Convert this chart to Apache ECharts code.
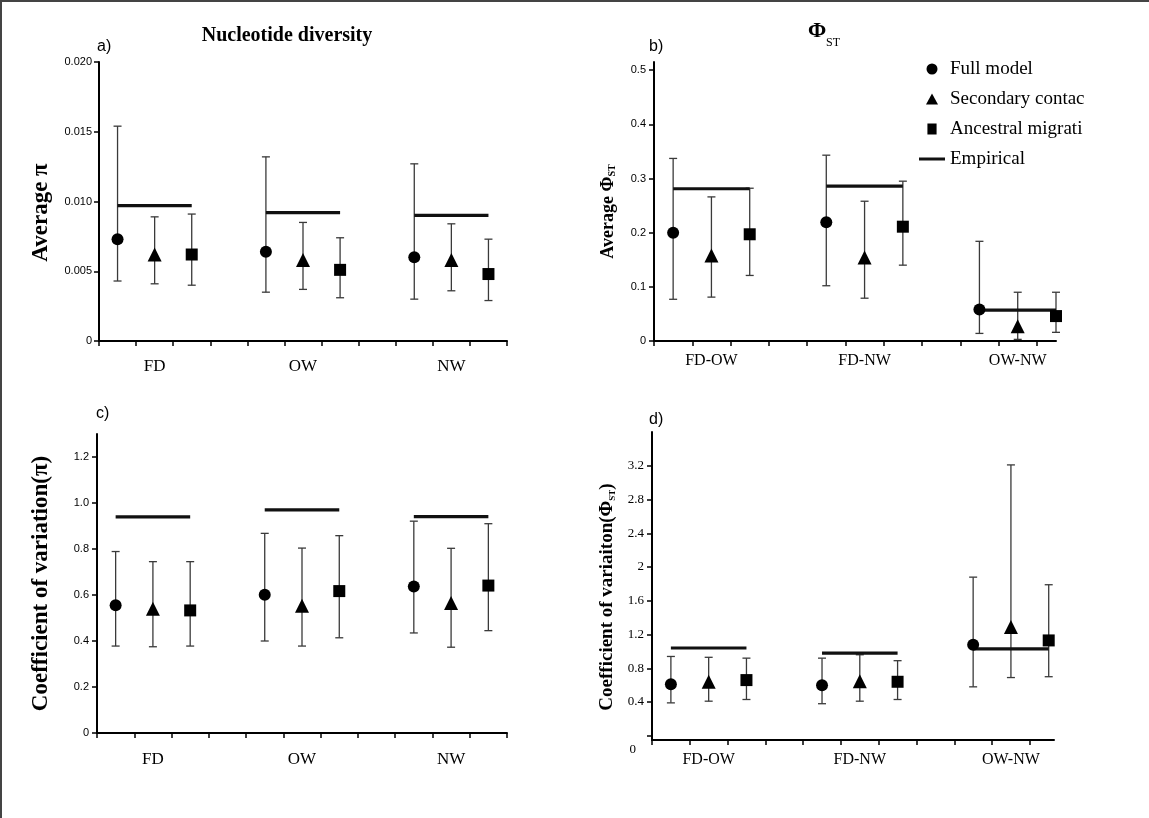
<!DOCTYPE html>
<html><head><meta charset="utf-8">
<script src="https://cdn.jsdelivr.net/npm/echarts@6/dist/echarts.min.js"></script>
<style>
html,body{margin:0;padding:0;background:#fff}
#wrap{position:relative;width:1149px;height:818px}
#c{width:1149px;height:818px}
#f{position:absolute;left:0;top:0;width:1149px;height:818px;border-top:2px solid #444;border-left:2px solid #444;box-sizing:border-box;pointer-events:none}
</style>
</head><body><div id="wrap"><div id="c"></div><div id="f"></div></div>
<script>
// ---- data ----
const models = ['Full model', 'Secondary contact', 'Ancestral migration'];
const popGroups = ['FD', 'OW', 'NW'];
const pairGroups = ['FD-OW', 'FD-NW', 'OW-NW'];

// a) Nucleotide diversity: [model][group]
const aMean = [[0.0073, 0.0064, 0.0060], [0.0062, 0.0058, 0.0058], [0.0062, 0.0051, 0.0048]];
const aLow  = [[0.0043, 0.0035, 0.0030], [0.0041, 0.0037, 0.0036], [0.0040, 0.0031, 0.0029]];
const aHigh = [[0.0154, 0.0132, 0.0127], [0.0089, 0.0085, 0.0084], [0.0091, 0.0074, 0.0073]];
const aEmp  = [0.0097, 0.0092, 0.0090];
const aTicks = [0, 0.005, 0.010, 0.015, 0.020];

// b) PhiST
const bMean = [[0.200, 0.219, 0.058], [0.158, 0.154, 0.027], [0.197, 0.211, 0.046]];
const bLow  = [[0.077, 0.102, 0.014], [0.081, 0.079, 0.003], [0.121, 0.140, 0.016]];
const bHigh = [[0.337, 0.343, 0.184], [0.266, 0.258, 0.090], [0.282, 0.295, 0.090]];
const bEmp  = [0.281, 0.286, 0.057];
const bTicks = [0, 0.1, 0.2, 0.3, 0.4, 0.5];

// c) CV of pi
const cMean = [[0.555, 0.601, 0.637], [0.540, 0.553, 0.565], [0.533, 0.617, 0.641]];
const cLow  = [[0.378, 0.400, 0.435], [0.375, 0.378, 0.373], [0.378, 0.414, 0.445]];
const cHigh = [[0.789, 0.868, 0.921], [0.745, 0.804, 0.803], [0.745, 0.858, 0.910]];
const cEmp  = [0.940, 0.970, 0.941];
const cTicks = [0, 0.2, 0.4, 0.6, 0.8, 1.0, 1.2];

// d) CV of PhiST
const dMean = [[0.61, 0.60, 1.08], [0.64, 0.645, 1.29], [0.66, 0.64, 1.13]];
const dLow  = [[0.39, 0.38, 0.58], [0.41, 0.41, 0.69], [0.43, 0.43, 0.70]];
const dHigh = [[0.94, 0.92, 1.88], [0.93, 0.96, 3.21], [0.92, 0.89, 1.79]];
const dEmp  = [1.04, 0.98, 1.03];
const dTicks = [0, 0.4, 0.8, 1.2, 1.6, 2.0, 2.4, 2.8, 3.2];

// ---- helpers ----
const SERIF = '"Liberation Serif", "Times New Roman", serif';
const SANS = '"Liberation Sans", Arial, sans-serif';
const symbols = ['circle', 'triangle', 'rect'];
const symSizes = [12, 14, 12];
const slotX = (g, m) => 4 * g + m + 0.5;

function errItem(params, api) {
  const x = api.value(0);
  const lo = api.coord([x, api.value(1)]);
  const hi = api.coord([x, api.value(2)]);
  const w = 4;
  const st = { stroke: '#3a3a3a', lineWidth: 1.3 };
  return { type: 'group', children: [
    { type: 'line', shape: { x1: lo[0], y1: lo[1], x2: hi[0], y2: hi[1] }, style: st },
    { type: 'line', shape: { x1: lo[0] - w, y1: lo[1], x2: lo[0] + w, y2: lo[1] }, style: st },
    { type: 'line', shape: { x1: hi[0] - w, y1: hi[1], x2: hi[0] + w, y2: hi[1] }, style: st }
  ]};
}
function empItem(params, api) {
  const y = api.value(2);
  const p1 = api.coord([api.value(0), y]);
  const p2 = api.coord([api.value(1), y]);
  return { type: 'line', shape: { x1: p1[0], y1: p1[1], x2: p2[0], y2: p2[1] },
           style: { stroke: '#111', lineWidth: 3.2 } };
}

function panelSeries(idx, groups, mean, low, high, emp) {
  const out = [];
  const errData = [];
  models.forEach((m, mi) => groups.forEach((g, gi) => errData.push([slotX(gi, mi), low[mi][gi], high[mi][gi]])));
  out.push({ type: 'custom', name: 'error bars', xAxisIndex: idx, yAxisIndex: idx, z: 1,
             renderItem: errItem, encode: { x: 0, y: [1, 2] }, data: errData, silent: true });
  out.push({ type: 'custom', name: 'Empirical', xAxisIndex: idx, yAxisIndex: idx, z: 2,
             itemStyle: { color: '#111' }, renderItem: empItem, encode: { x: [0, 1], y: 2 },
             data: groups.map((g, gi) => [slotX(gi, 0), slotX(gi, 2), emp[gi]]), silent: true });
  models.forEach((m, mi) => {
    out.push({ type: 'scatter', name: m, xAxisIndex: idx, yAxisIndex: idx, z: 3,
               symbol: symbols[mi], symbolSize: symSizes[mi], itemStyle: { color: '#000', opacity: 1 },
               data: groups.map((g, gi) => [slotX(gi, mi), mean[mi][gi]]), silent: true });
  });
  return out;
}

const axisLine = { show: true, onZero: false, lineStyle: { color: '#000', width: 2 } };
const axisTickStyle = { color: '#000', width: 1.5 };
const range = n => Array.from({ length: n + 1 }, (_, i) => i);

function xAxisFor(idx, groups, max, nTicks, fontSize, margin) {
  return {
    type: 'value', gridIndex: idx, min: 0, max: max,
    axisLine: axisLine, splitLine: { show: false },
    axisTick: { show: true, length: 5, lineStyle: axisTickStyle, customValues: range(nTicks) },
    axisLabel: { show: true, customValues: groups.map((g, gi) => slotX(gi, 1)),
                 formatter: v => groups[Math.round((v - 1.5) / 4)],
                 fontFamily: SERIF, fontSize: fontSize, color: '#000', margin: margin }
  };
}

const option = {
  animation: false,
  backgroundColor: '#fff',
  grid: [
    { left: 99, top: 62, width: 408, height: 279 },
    { left: 654, top: 62, width: 402, height: 279 },
    { left: 97, top: 434, width: 410, height: 299 },
    { left: 652, top: 432, width: 402, height: 308 }
  ],
  xAxis: [
    xAxisFor(0, popGroups, 11, 11, 17, 17),
    xAxisFor(1, pairGroups, 10.5, 10, 16, 12),
    xAxisFor(2, popGroups, 11, 11, 17, 18),
    xAxisFor(3, pairGroups, 10.64, 10, 16, 12)
  ],
  yAxis: [
    { type: 'value', gridIndex: 0, min: 0, max: 0.02, axisLine: axisLine, splitLine: { show: false },
      axisTick: { show: true, length: 5, lineStyle: axisTickStyle, customValues: aTicks },
      axisLabel: { customValues: aTicks, formatter: v => v === 0 ? '0' : v.toFixed(3),
                   fontFamily: SANS, fontSize: 11, color: '#000', margin: 7 },
      name: 'Average π', nameLocation: 'middle', nameGap: 46,
      nameTextStyle: { fontFamily: SERIF, fontSize: 23, fontWeight: 'bold', color: '#000', padding: [0, 22, 0, 0] } },
    { type: 'value', gridIndex: 1, min: 0, max: 0.515, axisLine: axisLine, splitLine: { show: false },
      axisTick: { show: true, length: 5, lineStyle: axisTickStyle, customValues: bTicks },
      axisLabel: { customValues: bTicks, formatter: v => v === 0 ? '0' : v.toFixed(1),
                   fontFamily: SANS, fontSize: 11, color: '#000', margin: 8 },
      name: '{n|Average Φ}{s|ST}', nameLocation: 'middle', nameGap: 37,
      nameTextStyle: { fontFamily: SERIF, fontSize: 18, fontWeight: 'bold', color: '#000', padding: [0, 20, 0, 0],
        rich: { n: { fontFamily: SERIF, fontSize: 18, fontWeight: 'bold', color: '#000' },
                s: { fontFamily: SERIF, fontSize: 10, color: '#000', verticalAlign: 'bottom', padding: [8, 0, 0, 0] } } } },
    { type: 'value', gridIndex: 2, min: 0, max: 1.3, axisLine: axisLine, splitLine: { show: false },
      axisTick: { show: true, length: 5, lineStyle: axisTickStyle, customValues: cTicks },
      axisLabel: { customValues: cTicks, formatter: v => v === 0 ? '0' : v.toFixed(1),
                   fontFamily: SANS, fontSize: 11, color: '#000', margin: 8 },
      name: 'Coefficient of variation(π)', nameLocation: 'middle', nameGap: 44,
      nameTextStyle: { fontFamily: SERIF, fontSize: 23, fontWeight: 'bold', color: '#000' } },
    { type: 'value', gridIndex: 3, min: -0.05, max: 3.6, axisLine: axisLine, splitLine: { show: false },
      axisTick: { show: true, length: 5, lineStyle: axisTickStyle, customValues: dTicks },
      axisLabel: { customValues: dTicks,
                   formatter: v => v === 0 ? '{z|0}' : (Number.isInteger(v) ? String(v) : v.toFixed(1)),
                   fontFamily: SERIF, fontSize: 13, color: '#000', margin: 8,
                   rich: { z: { fontFamily: SERIF, fontSize: 13, color: '#000', padding: [28, 8, 0, 0] } } },
      name: '{n|Coefficient of variaiton(Φ}{s|ST}{n|)}', nameLocation: 'middle', nameGap: 35,
      nameTextStyle: { fontFamily: SERIF, fontSize: 19, fontWeight: 'bold', color: '#000', padding: [0, 22, 0, 0],
        rich: { n: { fontFamily: SERIF, fontSize: 19, fontWeight: 'bold', color: '#000' },
                s: { fontFamily: SERIF, fontSize: 9, color: '#000', verticalAlign: 'bottom', padding: [8, 0, 0, 0] } } } }
  ],
  legend: {
    orient: 'vertical', left: 914, top: 53, itemWidth: 26, itemHeight: 11, itemGap: 8,
    selectedMode: false, symbolKeepAspect: true,
    textStyle: { fontFamily: SERIF, fontSize: 19, color: '#000', lineHeight: 22, width: 140, overflow: 'truncate', ellipsis: '' },
    data: [
      { name: 'Full model', icon: 'path://M5,0A5,5 0 1,1 4.99,0Z', itemStyle: { color: '#000' } },
      { name: 'Secondary contact', icon: 'path://M6,0L12,11L0,11Z' },
      { name: 'Ancestral migration', icon: 'path://M0,0H10V12H0Z' },
      { name: 'Empirical', icon: 'path://M0,0H26V3H0Z' }
    ]
  },
  graphic: [
    { type: 'text', x: 287, y: 36, style: { text: 'Nucleotide diversity', font: 'bold 20px ' + SERIF, fill: '#000', align: 'center', verticalAlign: 'middle' } },
    { type: 'text', x: 817, y: 31, style: { text: 'Φ', font: 'bold 22px ' + SERIF, fill: '#000', align: 'center', verticalAlign: 'middle' } },
    { type: 'text', x: 826, y: 43, style: { text: 'ST', font: '12px ' + SERIF, fill: '#000', align: 'left', verticalAlign: 'middle' } },
    { type: 'text', x: 97, y: 47, style: { text: 'a)', font: '16px ' + SANS, fill: '#000', align: 'left', verticalAlign: 'middle' } },
    { type: 'text', x: 649, y: 47, style: { text: 'b)', font: '16px ' + SANS, fill: '#000', align: 'left', verticalAlign: 'middle' } },
    { type: 'text', x: 96, y: 414, style: { text: 'c)', font: '16px ' + SANS, fill: '#000', align: 'left', verticalAlign: 'middle' } },
    { type: 'text', x: 649, y: 420, style: { text: 'd)', font: '16px ' + SANS, fill: '#000', align: 'left', verticalAlign: 'middle' } }
  ],
  series: [].concat(
    panelSeries(0, popGroups, aMean, aLow, aHigh, aEmp),
    panelSeries(1, pairGroups, bMean, bLow, bHigh, bEmp),
    panelSeries(2, popGroups, cMean, cLow, cHigh, cEmp),
    panelSeries(3, pairGroups, dMean, dLow, dHigh, dEmp)
  )
};

const chart = echarts.init(document.getElementById('c'), null, { renderer: 'canvas' });
chart.setOption(option);
</script>
</body></html>
